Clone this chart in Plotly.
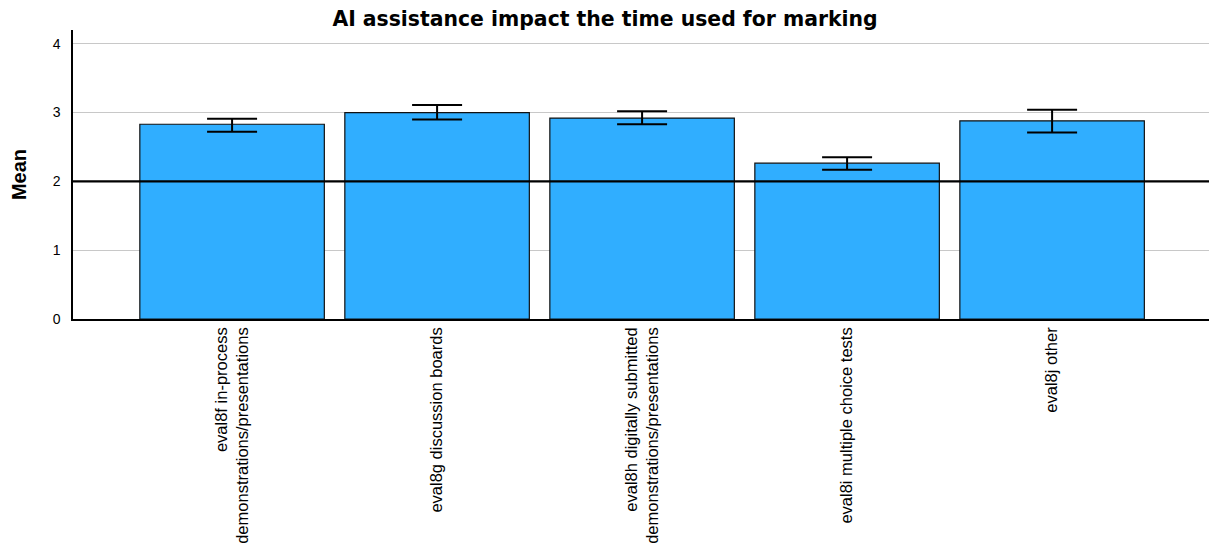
import plotly.graph_objects as go

categories = [
    "eval8f in-process<br>demonstrations/presentations",
    "eval8g discussion boards",
    "eval8h digitally submitted<br>demonstrations/presentations",
    "eval8i multiple choice tests",
    "eval8j other",
]
means = [2.83, 3.00, 2.92, 2.265, 2.88]
err_upper = [2.91, 3.11, 3.02, 2.35, 3.04]
err_lower = [2.72, 2.90, 2.83, 2.17, 2.71]
reference_value = 2
y_ticks = [0, 1, 2, 3, 4]

plus = [u - m for u, m in zip(err_upper, means)]
minus = [m - l for m, l in zip(means, err_lower)]
xs = list(range(len(categories)))

# page has an 8px body margin, so the figure is made 8px smaller and shifted
W, H = 1209, 551

fig = go.Figure()
fig.add_trace(go.Bar(
    x=xs, y=means, width=0.9,
    marker=dict(color="#30AEFF", line=dict(color="#111111", width=1.2)),
    error_y=dict(type="data", symmetric=False, array=plus, arrayminus=minus,
                 color="#000000", thickness=2, width=25),
    showlegend=False,
))
fig.add_shape(type="line", xref="paper", yref="y", x0=0, x1=1,
              y0=reference_value, y1=reference_value,
              line=dict(color="#000000", width=2.2), layer="above")

fig.update_layout(
    width=W, height=H,
    margin=dict(l=65, r=5, t=22, b=240, autoexpand=False),
    paper_bgcolor="white", plot_bgcolor="white",
    title=dict(text="<b>AI assistance impact the time used for marking</b>",
               x=597/W, xanchor="center", y=1-11/H, yref="container", yanchor="middle",
               font=dict(family="DejaVu Sans, Verdana, sans-serif", size=20.4, color="#000")),
    bargap=0.1,
)
fig.update_xaxes(
    range=[-0.776, 4.78], automargin=False,
    tickmode="array", tickvals=xs, ticktext=categories, tickangle=-90,
    tickfont=dict(family="Liberation Sans, Arial, sans-serif", size=16.5, color="#000"),
    showline=True, linecolor="#000", linewidth=1.5, ticks="", showgrid=False, zeroline=False,
)
fig.update_yaxes(
    range=[0, 4.2], tickvals=y_ticks, automargin=False, ticklabelstandoff=8,
    tickfont=dict(family="Liberation Sans, Arial, sans-serif", size=14, color="#000"),
    title=dict(text="<b>Mean</b>", font=dict(family="Liberation Sans, Arial, sans-serif", size=20, color="#000"), standoff=22),
    showline=True, linecolor="#000", linewidth=1.5, ticks="",
    showgrid=True, gridcolor="#C8C8C8", gridwidth=1, zeroline=False,
)

fig.write_html("out.html")
